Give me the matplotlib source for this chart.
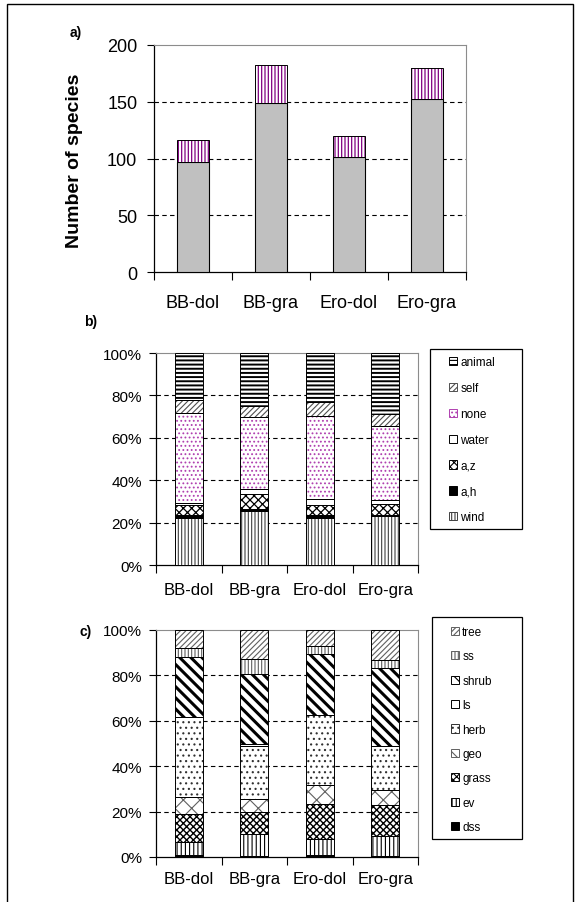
import matplotlib
matplotlib.use('Agg')
import matplotlib.pyplot as plt
import numpy as np
from matplotlib.patches import Patch, Rectangle

plt.rcParams['font.family'] = ['Liberation Sans', 'DejaVu Sans']
plt.rcParams['hatch.linewidth'] = 0.8

W, H = 579, 903

sites = ['BB-dol', 'BB-gra', 'Ero-dol', 'Ero-gra']

# a) number of species
base_species = [97, 149, 101, 152]
extra_species = [19, 33, 19, 28]

# b) dispersal mode shares (%), bottom -> top
disp_names = ['wind', 'a,h', 'a,z', 'water', 'none', 'self', 'animal']
wind = [22.3, 25.7, 22.3, 22.9]
a_h = [1.3, 0.8, 1.3, 0.7]
a_z = [4.7, 7.0, 4.7, 5.2]
water = [1.1, 2.5, 2.8, 2.0]
none = [42.1, 34.0, 39.1, 34.9]
self_ = [6.2, 5.0, 6.7, 5.6]
animal = [22.3, 25.0, 23.1, 28.7]
disp_values = [wind, a_h, a_z, water, none, self_, animal]

# c) life form shares (%), bottom -> top
life_names = ['dss', 'ev', 'grass', 'geo', 'herb', 'ls', 'shrub', 'ss', 'tree']
dss = [1.0, 0.3, 0.9, 0.4]
ev = [5.7, 9.8, 7.0, 8.7]
grass = [12.4, 9.8, 15.6, 13.7]
geo = [7.5, 5.8, 8.0, 6.6]
herb = [35.0, 23.1, 31.1, 19.6]
ls = [0.0, 1.1, 0.0, 0.0]
shrub = [26.3, 30.7, 26.8, 34.1]
ss = [4.2, 6.5, 3.5, 3.9]
tree = [7.9, 12.9, 7.1, 12.9]
life_values = [dss, ev, grass, geo, herb, ls, shrub, ss, tree]

# style: (facecolor, hatch, hatch colour, hatch linewidth)
disp_style = {
    'wind': ('white', '|||||', '#404040', 0.8),
    'a,h': ('black', '', 'black', 0.8),
    'a,z': ('white', 'xxxx', 'black', 0.9),
    'water': ('white', '', 'black', 0.8),
    'none': ('white', '....', '#b040b0', 0.8),
    'self': ('white', '//////', '#505050', 0.8),
    'animal': ('white', '----', 'black', 1.4),
}
life_style = {
    'dss': ('black', '', 'black', 0.8),
    'ev': ('white', '||||', 'black', 0.8),
    'grass': ('white', 'xxxxx', 'black', 1.0),
    'geo': ('white', 'xx', '#606060', 0.8),
    'herb': ('white', '...', '#303030', 0.8),
    'ls': ('white', '', 'black', 0.8),
    'shrub': ('white', '\\\\\\', 'black', 2.2),
    'ss': ('white', '|||||', '#606060', 0.8),
    'tree': ('white', '//////', '#606060', 0.8),
}


def px_axes(fig, left, top, right, bottom):
    return fig.add_axes([left / W, 1 - bottom / H, (right - left) / W, (bottom - top) / H])


def hatched_bar(ax, x, vals, bottom, width, style):
    fc, hatch, hc, hlw = style
    bars = ax.bar(x, vals, bottom=bottom, width=width, color=fc, edgecolor=hc,
                  hatch=hatch, linewidth=0, zorder=3)
    for b in bars:
        if hasattr(b, 'set_hatch_linewidth'):
            b.set_hatch_linewidth(hlw)
    ax.bar(x, vals, bottom=bottom, width=width, fill=False, edgecolor='black',
           linewidth=0.7, zorder=4)


def style_axes(ax, ymax, step, ylabsize, xlabsize, xpad, ypad):
    ax.set_xlim(-0.5, 3.5)
    ax.set_ylim(0, ymax)
    ax.set_yticks(np.arange(0, ymax + 1, step))
    for y in np.arange(step, ymax, step):
        ax.axhline(y, color='black', lw=0.8, ls=(0, (4, 3)), zorder=1)
    for s in ['top', 'right']:
        ax.spines[s].set_color('#8c8c8c')
        ax.spines[s].set_linewidth(0.8)
    for s in ['left', 'bottom']:
        ax.spines[s].set_linewidth(0.9)
    ax.set_xticks(np.arange(-0.5, 4, 1))
    ax.set_xticklabels([])
    ax.set_xticks(np.arange(4), minor=True)
    ax.set_xticklabels(sites, minor=True, fontsize=xlabsize)
    ax.tick_params(axis='x', which='major', length=6, width=0.8)
    ax.tick_params(axis='x', which='minor', length=0, pad=xpad)
    ax.tick_params(axis='y', length=5, width=0.8, labelsize=ylabsize, pad=ypad)


def make_legend(fig, names, styles, box, first_y, spacing):
    left, top, right, bottom = box
    fig.patches.append(Rectangle((left / W, 1 - bottom / H), (right - left) / W,
                                 (bottom - top) / H, transform=fig.transFigure,
                                 fill=False, edgecolor='black', lw=0.9))
    handles = []
    for n in names[::-1]:
        fc, hatch, hc, hlw = styles[n]
        p = Patch(facecolor=fc, edgecolor='black' if hatch == '' else hc, hatch=hatch, lw=0.7)
        if hasattr(p, 'set_hatch_linewidth'):
            p.set_hatch_linewidth(min(hlw, 1.2))
        handles.append(p)
    fs = 8.5
    fs_px = fs * 100 / 72
    fig.legend(handles, names[::-1], loc='upper left',
               bbox_to_anchor=((left + 19) / W, 1 - (first_y - fs_px / 2) / H),
               bbox_transform=fig.transFigure, frameon=False, fontsize=fs,
               handlelength=0.7, handleheight=0.7, handletextpad=0.25,
               labelspacing=(spacing - fs_px) / fs_px, borderpad=0, borderaxespad=0)


fig = plt.figure(figsize=(W / 100, H / 100), dpi=100)
fig.patches.append(Rectangle((7 / W, -0.01), (573 - 7) / W, 1 - 5 / H + 0.01,
                             transform=fig.transFigure, fill=False,
                             edgecolor='black', lw=1))

x = np.arange(4)

# ---- a)
ax_a = px_axes(fig, 154, 46, 466, 273)
ax_a.bar(x, base_species, width=0.4, color='#c0c0c0', edgecolor='black', lw=0.8, zorder=3)
hatched_bar(ax_a, x, extra_species, base_species, 0.4, ('white', '|||||', '#800080', 0.9))
style_axes(ax_a, 200, 50, 13, 13, 16, 7)
ax_a.set_ylabel('Number of species', fontsize=14, fontweight='bold')
ax_a.yaxis.set_label_coords((83 - 154) / 312, (273 - 161) / 227)
fig.text(70 / W, 1 - 33 / H, 'a)', fontsize=10, fontweight='bold', va='center')

# ---- b)
ax_b = px_axes(fig, 156, 354, 418, 566)
bottom = np.zeros(4)
for n, v in zip(disp_names, disp_values):
    hatched_bar(ax_b, x, v, bottom, 0.43, disp_style[n])
    bottom += np.array(v)
style_axes(ax_b, 100, 20, 11, 12, 12, 5)
ax_b.yaxis.set_major_formatter(matplotlib.ticker.FuncFormatter(lambda v, p: f'{v:.0f}%'))
fig.text(84 / W, 1 - 322 / H, 'b)', fontsize=10, fontweight='bold', va='center')
make_legend(fig, disp_names, disp_style, (430, 350, 522, 530), 363, 25.7)

# ---- c)
ax_c = px_axes(fig, 156, 631, 418, 858)
bottom = np.zeros(4)
for n, v in zip(life_names, life_values):
    hatched_bar(ax_c, x, v, bottom, 0.43, life_style[n])
    bottom += np.array(v)
style_axes(ax_c, 100, 20, 11, 12, 10, 5)
ax_c.yaxis.set_major_formatter(matplotlib.ticker.FuncFormatter(lambda v, p: f'{v:.0f}%'))
fig.text(80 / W, 1 - 632 / H, 'c)', fontsize=10, fontweight='bold', va='center')
make_legend(fig, life_names, life_style, (432, 618, 522, 840), 633, 24.2)

fig.savefig('out.png', dpi=100)
